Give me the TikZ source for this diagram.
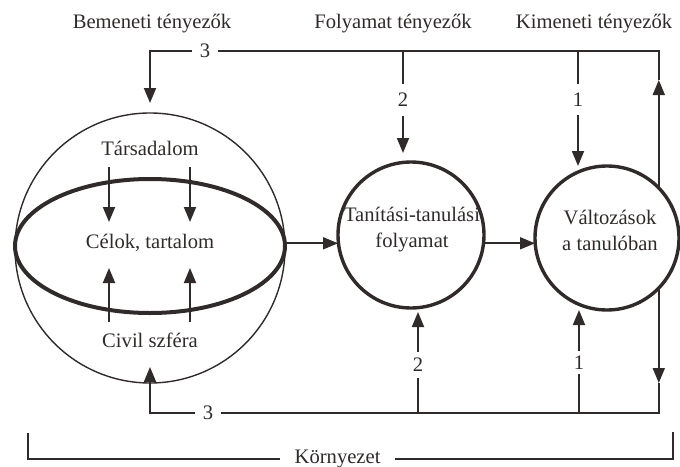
\documentclass[tikz,border=0pt]{standalone}
\usepackage{fontspec}
\setmainfont{Liberation Serif}
\usetikzlibrary{arrows.meta}
\definecolor{ink}{RGB}{48,42,42}
\begin{document}
\begin{tikzpicture}[x=0.5pt,y=-0.5pt,
  every node/.style={font=\fontsize{10.3}{13}\selectfont, text=ink},
  conn/.style={draw=ink, line width=0.9pt},
  tip/.style={-{Triangle[length=7.5pt,width=6pt]}},
  hlab/.style={fill=white, inner xsep=4pt, inner ysep=1pt},
  vlab/.style={fill=white, inner xsep=1pt, inner ysep=4.5pt},
  globe/.style={circle, draw=ink, line width=0.7pt, inner sep=0pt, outer sep=0pt, minimum size=135pt},
  stage/.style={circle, draw=ink, line width=1.7pt, fill=white, inner sep=0pt, outer sep=0pt}]
\useasboundingbox (0,0) rectangle (680,466);

% column headings
\node (hin)  at (152,24) {Bemeneti tényezők};
\node (hpr)  at (393,24) {Folyamat tényezők};
\node (hout) at (594,24) {Kimeneti tényezők};

% society sphere with the goals ring
\node[globe] (S) at (150,248) {};
\draw[ink, line width=2pt] (150,246) ellipse [x radius=67.5pt, y radius=33.5pt];
\node (soc)  at (150,148) {Társadalom};
\node (goal) at (150,243) {Célok, tartalom};
\node (civ)  at (150,340) {Civil szféra};

% influences on the goals
\coordinate (da) at (109,167); \coordinate (db) at (190,167);
\coordinate (ua) at (109,322); \coordinate (ub) at (190,322);
\draw[conn,tip] (da) -- (109,222);
\draw[conn,tip] (db) -- (190,222);
\draw[conn,tip] (ua) -- (109,268);
\draw[conn,tip] (ub) -- (190,268);

% process and outcome stages
\node[stage, minimum size=73pt] (M) at (411,235) {};
\node[stage, minimum size=72pt] (R) at (607,238) {};
\node[align=center] (Mt) at (412,230) {Tanítási-tanulási\\folyamat};
\node[align=center] (Rt) at (610,230) {Változások\\a tanulóban};

% main flow
\draw[conn,tip] (S.2) -- (S.2 -| M.west);
\draw[conn,tip] (M.east |- S.2) -- (R.west |- S.2);

% frame lines of the factors
\coordinate (top) at (0,51);
\coordinate (bot) at (0,413);
\coordinate (f2t) at (403,51);
\coordinate (f1t) at (578,51);
\coordinate (f2b) at (418,413);
\coordinate (f1b) at (579,413);

% feedback over the top
\draw[conn,tip] (R.44) -- (R.44 |- 0,80);
\draw[conn,tip] (R.44 |- 0,80) -- (R.44 |- top)
  -- node[hlab,pos=0.892]{3} (S.north |- top) -- ([yshift=5pt]S.north);

% feedback along the bottom
\draw[conn,tip] (R.-44) -- (R.-44 |- 0,383);
\draw[conn,tip] (R.-44 |- 0,383) -- (R.-44 |- bot)
  -- node[hlab,pos=0.886]{3} (S.south |- bot) -- ([yshift=8pt]S.south);

% process and outcome factors
\draw[conn,tip,shorten >=4.5pt] (f2t) -- node[vlab,pos=0.44]{2} (f2t |- M.north);
\draw[conn,tip] (f1t) -- node[vlab,pos=0.42]{1} (f1t |- R.north);
\draw[conn,tip,shorten >=2pt] (f2b) -- node[vlab,pos=0.46,inner ysep=3pt]{2} (f2b |- M.south);
\draw[conn,tip] (f1b) -- node[vlab,pos=0.49,inner ysep=2.5pt]{1} (f1b |- R.south);

% environment bracket
\coordinate (el) at (28,433);
\coordinate (er) at (673,432);
\draw[conn] (el) -- (el |- 0,459)
  -- node[fill=white, inner xsep=7.5pt, inner ysep=1pt, pos=0.48]{Környezet} (er |- 0,459) -- (er);
\end{tikzpicture}
\end{document}
